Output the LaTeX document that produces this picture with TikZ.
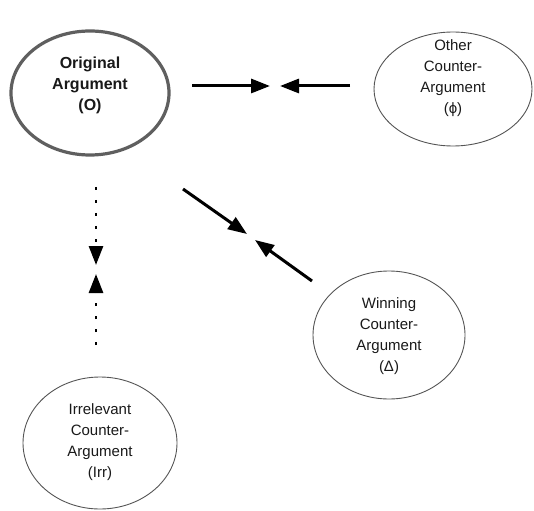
\documentclass[tikz,border=0pt]{standalone}
\usepackage{fontspec}
\setmainfont{Liberation Sans}
\usepackage{xcolor}
\usepackage{tikz}
\usetikzlibrary{arrows.meta,shapes.geometric,positioning}
\definecolor{rimgray}{HTML}{5F5F5F}
\definecolor{thingray}{HTML}{555555}
\tikzset{>={Triangle[length=19pt,width=14pt]}}
\tikzset{
  argument/.style={ellipse, draw=thingray, line width=0.9pt, inner sep=0pt},
  claim/.style={align=center, font=\fontsize{15}{21}\selectfont, text=black!90},
  push/.style={->, line width=3pt},
  nudge/.style={->, line width=2.8pt, dash pattern=on 2.8pt off 10.2pt}
}

\begin{document}
\begin{tikzpicture}[x=1pt,y=-1pt]
        \useasboundingbox (0,0) rectangle (534,510);
        \node[argument, draw=rimgray, line width=3.2pt, minimum width=158pt, minimum height=124pt]
          at (90,93) (orig) {};
        \node[claim, font=\fontsize{16}{21}\selectfont\bfseries] at (90,85) (origtext)
          {Original\\Argument\\(O)};
        \node[argument, minimum width=158pt, minimum height=114pt] at (453,89) (other) {};
        \node[claim] at (453,78) (othertext) {Other\\Counter-\\Argument\\(ϕ)};
        \node[argument, minimum width=152pt, minimum height=128pt] at (389,335) (win) {};
        \node[claim] at (389,336) (wintext) {Winning\\Counter-\\Argument\\(Δ)};
        \node[argument, minimum width=154pt, minimum height=132pt] at (100,443) (irr) {};
        \node[claim] at (100,442) (irrtext) {Irrelevant\\Counter-\\Argument\\(Irr)};

        % free ends of the arrows
        \coordinate (otherfrom) at (192,86);
        \coordinate (othermeet) at (270,86);
        \coordinate (otherback) at (350,86);
        \coordinate (otherhit) at (280,86);
        \coordinate (winfrom) at (183,189);
        \coordinate (winmeet) at (247,234);
        \coordinate (winback) at (312,281);
        \coordinate (winhit) at (255,240);
        \coordinate (irrfrom) at (96,187);
        \coordinate (irrmeet) at (96,265);
        \coordinate (irrback) at (96,345);
        \coordinate (irrhit) at (96,274);

        \draw[push] (otherfrom) to (othermeet);
        \draw[push] (otherback) to (otherhit);
        \draw[push] (winfrom) to (winmeet);
        \draw[push] (winback) to (winhit);
        \draw[nudge] (irrfrom) to (irrmeet);
        \draw[nudge] (irrback) to (irrhit);
      \end{tikzpicture}
\end{document}
